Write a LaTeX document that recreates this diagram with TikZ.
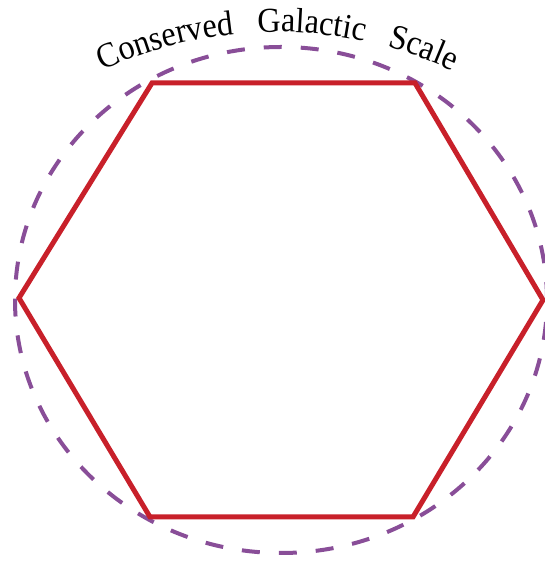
\documentclass[tikz,border=0pt]{standalone}
\usepackage{fontspec}
\setmainfont{Liberation Serif}
\newfontfamily\arcserif[FakeStretch=0.92]{Liberation Serif}
\usetikzlibrary{decorations.text}
\definecolor{HexRed}{RGB}{200,32,42}
\definecolor{RimPurple}{RGB}{137,78,152}
\newcommand{\arcfont}{\arcserif\fontsize{35}{40}\selectfont}
\tikzset{hexedge/.style={draw=HexRed,line width=5pt,line join=miter},rim/.style={draw=RimPurple,line width=4pt,dash pattern=on 18pt off 19pt},arcword/.style={postaction={decorate},decoration={text along path,text align=center,text={|\arcfont|#1}}}}

\begin{document}
\begin{tikzpicture}[x=1pt,y=1pt]
\useasboundingbox (0,0) rectangle (544,562);
\coordinate (ctr) at (281,262);
\coordinate (arcctr) at (277,116);
\draw[rim] (ctr) ellipse[x radius=266,y radius=253];
\coordinate (v1) at (152,479); \coordinate (v2) at (415,479); \coordinate (v3) at (543,262);
\coordinate (v4) at (413,45); \coordinate (v5) at (150,45); \coordinate (v6) at (19,264);
\draw[hexedge] (v1)--(v2)--(v3)--(v4)--(v5)--(v6)--cycle;
\path[arcword=Conserved] ([shift={(125:414)}]arcctr) arc[start angle=125,end angle=85.8,radius=414pt];
\path[arcword=Galactic] ([shift={(100:414)}]arcctr) arc[start angle=100,end angle=70.5,radius=414pt];
\path[arcword=Scale] ([shift={(80:414)}]arcctr) arc[start angle=80,end angle=59.5,radius=414pt];
\end{tikzpicture}
\end{document}
